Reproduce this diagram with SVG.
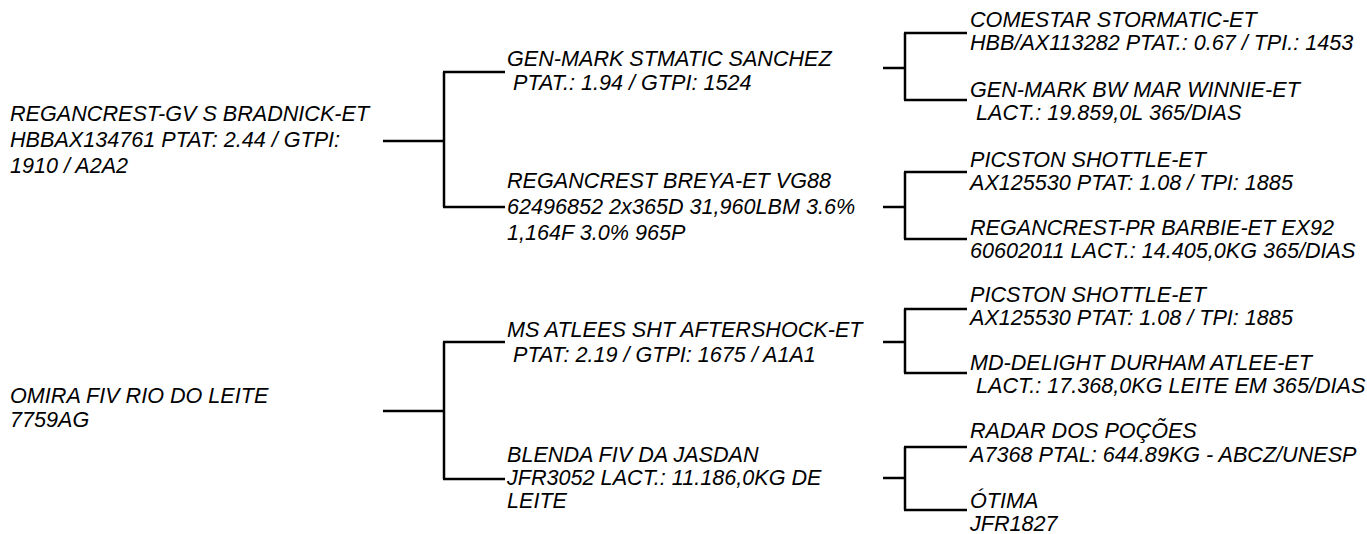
<svg xmlns="http://www.w3.org/2000/svg" width="1367" height="534" viewBox="0 0 1367 534">
<style>
text{font-family:"Liberation Sans",Arial,sans-serif;font-style:italic;font-size:21.6px;fill:#000}
.c line{stroke:#000;stroke-width:2.5}
</style>
<rect width="1367" height="534" fill="#fff"/>
<g class="c" id="connectors">
<line x1="383" y1="141" x2="445" y2="141"/>
<line x1="444" y1="72" x2="444" y2="207"/>
<line x1="443" y1="72" x2="505" y2="72"/>
<line x1="443" y1="207" x2="505" y2="207"/>
<line x1="383" y1="411" x2="445" y2="411"/>
<line x1="444" y1="342" x2="444" y2="479"/>
<line x1="443" y1="342" x2="505" y2="342"/>
<line x1="443" y1="479" x2="505" y2="479"/>
<line x1="883" y1="68" x2="905" y2="68"/>
<line x1="905" y1="33" x2="905" y2="100"/>
<line x1="904" y1="33" x2="967" y2="33"/>
<line x1="904" y1="100" x2="967" y2="100"/>
<line x1="883" y1="207" x2="905" y2="207"/>
<line x1="905" y1="172" x2="905" y2="239"/>
<line x1="904" y1="172" x2="967" y2="172"/>
<line x1="904" y1="239" x2="967" y2="239"/>
<line x1="883" y1="342" x2="905" y2="342"/>
<line x1="905" y1="309" x2="905" y2="373"/>
<line x1="904" y1="309" x2="967" y2="309"/>
<line x1="904" y1="373" x2="967" y2="373"/>
<line x1="883" y1="478" x2="905" y2="478"/>
<line x1="905" y1="447" x2="905" y2="510"/>
<line x1="904" y1="447" x2="967" y2="447"/>
<line x1="904" y1="510" x2="967" y2="510"/>
</g>
<g id="n1"><text x="10" y="121">REGANCREST-GV S BRADNICK-ET</text><text x="10" y="147">HBBAX134761 PTAT: 2.44 / GTPI:</text><text x="10" y="173">1910 / A2A2</text></g>
<g id="n2"><text x="10" y="403">OMIRA FIV RIO DO LEITE</text><text x="10" y="427">7759AG</text></g>
<g id="n3"><text x="507" y="66">GEN-MARK STMATIC SANCHEZ</text><text x="507" y="90" xml:space="preserve"> PTAT.: 1.94 / GTPI: 1524</text></g>
<g id="n4"><text x="507" y="188">REGANCREST BREYA-ET VG88</text><text x="507" y="214">62496852 2x365D 31,960LBM 3.6%</text><text x="507" y="240">1,164F 3.0% 965P</text></g>
<g id="n5"><text x="507" y="337">MS ATLEES SHT AFTERSHOCK-ET</text><text x="507" y="362" xml:space="preserve"> PTAT: 2.19 / GTPI: 1675 / A1A1</text></g>
<g id="n6"><text x="507" y="462">BLENDA FIV DA JASDAN</text><text x="507" y="485">JFR3052 LACT.: 11.186,0KG DE</text><text x="507" y="508">LEITE</text></g>
<g id="n7"><text x="970" y="27">COMESTAR STORMATIC-ET</text><text x="970" y="50">HBB/AX113282 PTAT.: 0.67 / TPI.: 1453</text></g>
<g id="n8"><text x="970" y="97">GEN-MARK BW MAR WINNIE-ET</text><text x="970" y="120" xml:space="preserve"> LACT.: 19.859,0L 365/DIAS</text></g>
<g id="n9"><text x="970" y="167">PICSTON SHOTTLE-ET</text><text x="970" y="190">AX125530 PTAT: 1.08 / TPI: 1885</text></g>
<g id="n10"><text x="970" y="235">REGANCREST-PR BARBIE-ET EX92</text><text x="970" y="258">60602011 LACT.: 14.405,0KG 365/DIAS</text></g>
<g id="n11"><text x="970" y="302">PICSTON SHOTTLE-ET</text><text x="970" y="325">AX125530 PTAT: 1.08 / TPI: 1885</text></g>
<g id="n12"><text x="970" y="370">MD-DELIGHT DURHAM ATLEE-ET</text><text x="970" y="393" xml:space="preserve"> LACT.: 17.368,0KG LEITE EM 365/DIAS</text></g>
<g id="n13"><text x="970" y="438">RADAR DOS POÇÕES</text><text x="970" y="462">A7368 PTAL: 644.89KG - ABCZ/UNESP</text></g>
<g id="n14"><text x="970" y="508">ÓTIMA</text><text x="970" y="531">JFR1827</text></g>
</svg>
